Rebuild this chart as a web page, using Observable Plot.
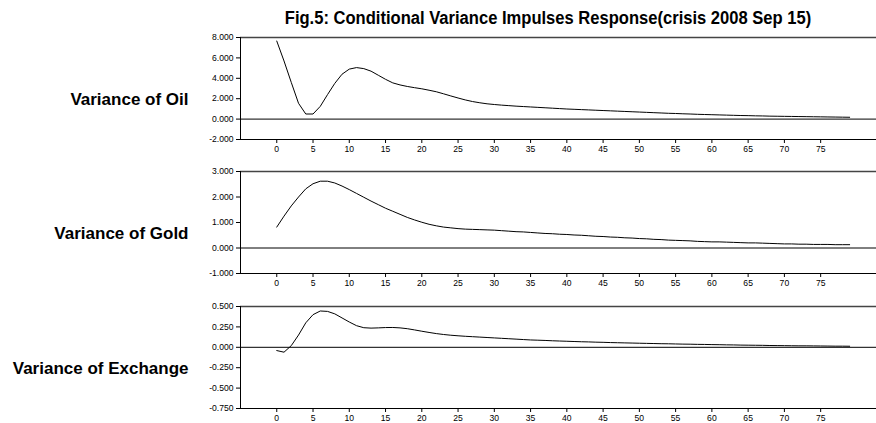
<!DOCTYPE html>
<html>
<head>
<meta charset="utf-8">
<script src="https://cdn.jsdelivr.net/npm/d3@7"></script>
<script src="https://cdn.jsdelivr.net/npm/@observablehq/plot@0.6"></script>
<style>
  html, body { margin: 0; padding: 0; background: #fff; }
  #chart { position: relative; width: 876px; height: 423px; overflow: hidden; background: #fff; }
  #title { position: absolute; top: 9px; left: 548px; transform: translateX(-50%) scaleX(0.92); white-space: nowrap;
           font-family: "Liberation Sans", Arial, sans-serif; font-weight: bold;
           font-size: 18px; line-height: 18px; color: #000; }
  .panel { position: absolute; left: 0; }
</style>
</head>
<body>
<div id="chart"><div id="title">Fig.5: Conditional Variance Impulses Response(crisis 2008 Sep 15)</div></div>
<script>
const title = "Fig.5: Conditional Variance Impulses Response(crisis 2008 Sep 15)";
const seriesNames = ["Variance of Oil", "Variance of Gold", "Variance of Exchange"];
const xTicks = [0, 5, 10, 15, 20, 25, 30, 35, 40, 45, 50, 55, 60, 65, 70, 75];

const oil = [7.65, 5.7, 3.6, 1.55, 0.5, 0.5, 1.25, 2.4, 3.5, 4.4,
  4.9, 5.05, 4.95, 4.7, 4.3, 3.9, 3.55, 3.35, 3.2, 3.08,
  2.97, 2.83, 2.68, 2.48, 2.27, 2.07, 1.88, 1.72, 1.6, 1.5,
  1.43, 1.37, 1.32, 1.27, 1.23, 1.19, 1.15, 1.11, 1.07, 1.03,
  0.99, 0.96, 0.93, 0.9, 0.87, 0.84, 0.81, 0.78, 0.75, 0.72,
  0.69, 0.66, 0.63, 0.6, 0.57, 0.55, 0.52, 0.5, 0.47, 0.45,
  0.43, 0.41, 0.39, 0.37, 0.35, 0.34, 0.32, 0.31, 0.29, 0.28,
  0.27, 0.26, 0.25, 0.24, 0.23, 0.22, 0.21, 0.2, 0.19, 0.18];
const gold = [0.82, 1.25, 1.65, 2.0, 2.32, 2.52, 2.62, 2.62, 2.55, 2.43,
  2.29, 2.14, 1.99, 1.84, 1.7, 1.56, 1.44, 1.32, 1.2, 1.1,
  1.01, 0.93, 0.87, 0.82, 0.79, 0.76, 0.74, 0.73, 0.72, 0.71,
  0.70, 0.68, 0.66, 0.64, 0.63, 0.61, 0.59, 0.57, 0.56, 0.54,
  0.53, 0.51, 0.5, 0.48, 0.46, 0.45, 0.43, 0.42, 0.4, 0.39,
  0.37, 0.36, 0.34, 0.33, 0.31, 0.30, 0.29, 0.28, 0.26, 0.25,
  0.24, 0.24, 0.23, 0.22, 0.21, 0.2, 0.2, 0.19, 0.18, 0.17,
  0.16, 0.16, 0.15, 0.15, 0.14, 0.14, 0.14, 0.13, 0.13, 0.13];
const exchange = [-0.04, -0.06, 0.02, 0.15, 0.3, 0.4, 0.445, 0.44, 0.41, 0.36,
  0.31, 0.265, 0.24, 0.235, 0.238, 0.242, 0.243, 0.238, 0.228, 0.213,
  0.197, 0.182, 0.168, 0.157, 0.148, 0.141, 0.135, 0.13, 0.125, 0.12,
  0.115, 0.11, 0.105, 0.1, 0.095, 0.09, 0.087, 0.084, 0.08, 0.077,
  0.074, 0.071, 0.068, 0.066, 0.063, 0.061, 0.058, 0.056, 0.054, 0.052,
  0.05, 0.048, 0.046, 0.044, 0.043, 0.041, 0.039, 0.038, 0.036, 0.035,
  0.033, 0.032, 0.03, 0.029, 0.027, 0.026, 0.025, 0.024, 0.022, 0.021,
  0.02, 0.019, 0.018, 0.018, 0.017, 0.016, 0.015, 0.014, 0.014, 0.013];

const oilTicks = [-2, 0, 2, 4, 6, 8];
const goldTicks = [-1, 0, 1, 2, 3];
const exchangeTicks = [-0.75, -0.5, -0.25, 0, 0.25, 0.5];

const panels = [
  {values: oil, ticks: oilTicks, name: seriesNames[0], top: 27},
  {values: gold, ticks: goldTicks, name: seriesNames[1], top: 161},
  {values: exchange, ticks: exchangeTicks, name: seriesNames[2], top: 296}
];

const chart = document.getElementById("chart");
const FONT = "'Liberation Sans', Arial, Helvetica, sans-serif";

for (const p of panels) {
  const data = p.values.map((v, i) => ({t: i, v}));
  const yDomain = [d3.min(p.ticks), d3.max(p.ticks)];
  const svg = Plot.plot({
    width: 876,
    height: 127,
    marginTop: 10,
    marginBottom: 15,
    marginLeft: 240,
    marginRight: 0,
    style: {fontFamily: FONT, fontSize: "8.6px", color: "#000", background: "transparent", overflow: "visible"},
    x: {domain: [-5, 82.7], ticks: xTicks, tickSize: 4, tickPadding: 2, tickFormat: d => String(d), label: null},
    y: {domain: yDomain, ticks: p.ticks, tickSize: 4, tickPadding: 3, tickFormat: d => d.toFixed(3), label: null},
    marks: [
      Plot.ruleY([yDomain[1]], {stroke: "#444", strokeWidth: 1.3}),
      Plot.ruleY([0], {stroke: "#000", strokeWidth: 1}),
      Plot.ruleY([yDomain[0]], {stroke: "#000", strokeWidth: 1}),
      Plot.ruleX([-5], {stroke: "#000", strokeWidth: 1}),
      Plot.line(data, {x: "t", y: "v", stroke: "#000", strokeWidth: 1}),
      Plot.text([p.name], {frameAnchor: "left", dx: -52, dy: 11, textAnchor: "end",
        fontWeight: "bold", fontSize: 17, fill: "#000"})
    ]
  });
  svg.classList.add("panel");
  svg.style.position = "absolute";
  svg.style.top = p.top + "px";
  svg.style.left = "0px";
  chart.appendChild(svg);
}
</script>
</body>
</html>
